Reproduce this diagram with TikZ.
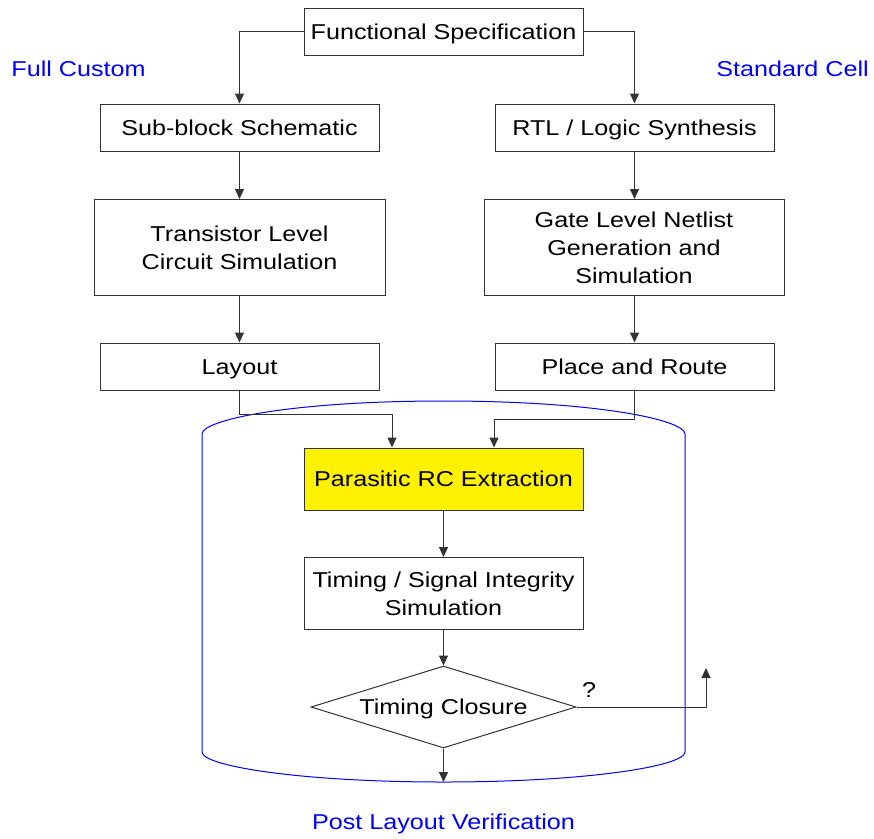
\documentclass[tikz,border=0pt]{standalone}
\usepackage{fontspec}
\setmainfont{Liberation Sans}[FakeStretch=1.17]
\usetikzlibrary{shapes.geometric,arrows.meta}
\begin{document}
\begin{tikzpicture}[x=1pt,y=-1pt,
  every node/.style={font=\fontsize{21.5}{28}\selectfont},
  one/.style={text height=18pt,text depth=2.6pt},
  box/.style={draw=black!80,line width=1pt,align=center,inner sep=0pt},
  arr/.style={draw=black!80,line width=1pt,-{Triangle[length=10pt,width=9pt]}},
  lbl/.style={text=blue,one},
  cyl/.style={draw=blue,line width=1pt}]
\useasboundingbox (0,0) rectangle (874,838);
% cylinder
\draw[cyl] (202,752) -- (202,434) .. controls (202,420) and (290,401) .. (443.5,401)
  .. controls (597,401) and (685,420) .. (685,434) -- (685,752)
  .. controls (685,766) and (587,782) .. (443.5,782)
  .. controls (300,782) and (202,766) .. (202,752);
% nodes
\node[box,one,minimum width=279pt,minimum height=47pt] (fs) at (443.5,31.5) {Functional Specification};
\node[box,one,minimum width=279pt,minimum height=47pt] (sub) at (239.5,127.5) {Sub-block Schematic};
\node[box,one,minimum width=279pt,minimum height=47pt] (rtl) at (634.5,127.5) {RTL / Logic Synthesis};
\node[box,minimum width=291pt,minimum height=96pt] (tls) at (239.5,247.5) {Transistor Level\\Circuit Simulation};
\node[box,minimum width=300pt,minimum height=96pt] (gln) at (634,247.5) {Gate Level Netlist\\Generation and\\Simulation};
\node[box,one,minimum width=279pt,minimum height=47pt] (lay) at (239.5,366.5) {Layout};
\node[box,one,minimum width=279pt,minimum height=47pt] (pr) at (634.5,366.5) {Place and Route};
\node[box,one,fill=yellow,minimum width=279pt,minimum height=62pt] (prc) at (443.5,479) {Parasitic RC Extraction};
\node[box,minimum width=279pt,minimum height=72pt] (tsi) at (443.5,593.5) {Timing / Signal Integrity\\Simulation};
\node[box,one,diamond,shape aspect=3.23,minimum width=265pt,minimum height=82pt] (tc) at (443.5,707) {Timing Closure};
\node[lbl] (fc) at (78.5,69) {Full Custom};
\node[lbl] (sc) at (792.5,69) {Standard Cell};
\node[lbl] (plv) at (443.5,822) {Post Layout Verification};
\node[one] (q) at (589,690) {?};
\coordinate (qend) at (706,668);
\coordinate (bend) at (443.5,782);
% connectors
\draw[arr] (fs.west) -| (sub.north);
\draw[arr] (fs.east) -| (rtl.north);
\draw[arr] (sub) -- (tls);
\draw[arr] (rtl) -- (gln.north -| rtl);
\draw[arr] (tls) -- (lay);
\draw[arr] (gln.south -| pr) -- (pr);
\draw[arr] (lay.south) -- ++(0,24) -| ([xshift=-51.5pt]prc.north);
\draw[arr] (pr.south) -- ++(0,29) -| ([xshift=50.5pt]prc.north);
\draw[arr] (prc) -- (tsi);
\draw[arr] (tsi) -- (tc);
\draw[arr] (tc.south) -- (bend);
\draw[arr] (tc.east) -| (qend);
\end{tikzpicture}
\end{document}
